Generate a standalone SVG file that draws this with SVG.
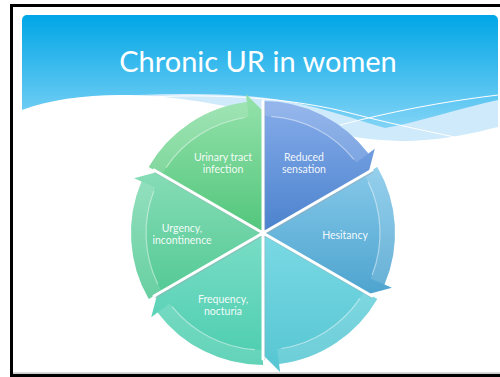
<svg xmlns="http://www.w3.org/2000/svg" width="500" height="377" viewBox="0 0 500 377">
<defs>
<linearGradient id="hdr" gradientUnits="userSpaceOnUse" x1="0" y1="15" x2="0" y2="140">
<stop offset="0" stop-color="#00a6e6"/><stop offset="1" stop-color="#8fd8f8"/>
</linearGradient>
<linearGradient id="gUti" x1="0" y1="0" x2="0" y2="1"><stop offset="0" stop-color="#95e2ab"/><stop offset="1" stop-color="#52c67c"/></linearGradient>
<linearGradient id="gRed" x1="0" y1="0" x2="0" y2="1"><stop offset="0" stop-color="#86acea"/><stop offset="1" stop-color="#4b82cd"/></linearGradient>
<linearGradient id="gHes" x1="0" y1="0" x2="0" y2="1"><stop offset="0" stop-color="#86c9ea"/><stop offset="1" stop-color="#4ea4cf"/></linearGradient>
<linearGradient id="gBr" x1="0" y1="0" x2="0" y2="1"><stop offset="0" stop-color="#7ad9e4"/><stop offset="1" stop-color="#56c6d2"/></linearGradient>
<linearGradient id="gFre" x1="0" y1="0" x2="0" y2="1"><stop offset="0" stop-color="#7addc6"/><stop offset="1" stop-color="#4ccdae"/></linearGradient>
<linearGradient id="gUrg" x1="0" y1="0" x2="0" y2="1"><stop offset="0" stop-color="#86dcb6"/><stop offset="1" stop-color="#52c994"/></linearGradient>
<path id="band" d="M263,101 A132,132 0 0 1 368.4,153.6 L356.4,162.6 A117,117 0 0 0 263,116 Z"/>
<path id="hl" d="M271.2,116.3 A117,117 0 0 1 353.9,159.4"/>
</defs>
<style>
.lbl{font-family:Lato,"Open Sans",sans-serif;font-size:10.5px;fill:#ffffff;fill-opacity:0.93;text-anchor:middle}
.band{fill:#ffffff;fill-opacity:0.13}
.hl{fill:none;stroke:#ffffff;stroke-opacity:0.45;stroke-width:1.2}
.spoke{stroke:#ffffff;stroke-width:3;stroke-linecap:round}
.spokesh{stroke:#9aa8b0;stroke-opacity:0.45;stroke-width:3}
</style>
<rect width="500" height="377" fill="#ffffff"/>
<g id="header">
<rect x="22" y="15" width="476" height="140" rx="5" fill="url(#hdr)"/>
<path d="M22,130 L22,112 C80,96 150,92 230,95 C300,98 340,115 385,128 C420,122 460,108 498,100 L498,160 L22,160 Z" fill="#cfeafb"/>
<path d="M22,110 C50,99 90,94 130,95 C190,97 240,108 290,122 C330,133 360,140 400,141 C440,141 470,134 498,127 L498,165 L22,165 Z" fill="#ffffff"/>
<path d="M150,97 C230,93 300,100 350,113 C400,126 440,134 470,140" fill="none" stroke="#ffffff" stroke-width="1"/>
<path d="M340,125 C390,112 440,102 498,95" fill="none" stroke="#ffffff" stroke-width="1"/>
<text x="258" y="72" font-family="Lato,'Open Sans',sans-serif" font-size="29" fill="#ffffff" text-anchor="middle">Chronic UR in women</text>
</g>
<g id="node-uti">
<path d="M263,233 L148.7,167 A132,132 0 0 1 246.9,102 L245.9,94 L263,111 Z" fill="url(#gUti)"/>
<use href="#band" class="band" transform="rotate(-60 263 233)"/>
<use href="#hl" class="hl" transform="rotate(-60 263 233)"/>
<text class="lbl" x="223" y="161">Urinary tract</text>
<text class="lbl" x="223" y="173">infection</text>
</g>
<g id="node-reduced">
<path d="M263,233 L263,101 A132,132 0 0 1 368.4,153.6 L374.8,148.7 L368.7,172 Z" fill="url(#gRed)"/>
<use href="#band" class="band"/>
<use href="#hl" class="hl"/>
<text class="lbl" x="304" y="161">Reduced</text>
<text class="lbl" x="304" y="173">sensation</text>
</g>
<g id="node-hesitancy">
<path d="M263,233 L377.3,167 A132,132 0 0 1 384.5,284.6 L391.9,287.7 L368.7,294 Z" fill="url(#gHes)"/>
<use href="#band" class="band" transform="rotate(60 263 233)"/>
<use href="#hl" class="hl" transform="rotate(60 263 233)"/>
<text class="lbl" x="345" y="239">Hesitancy</text>
</g>
<g id="node-bottom">
<path d="M263,233 L377.3,299 A132,132 0 0 1 279.1,364 L280.1,372 L263,355 Z" fill="url(#gBr)"/>
<use href="#band" class="band" transform="rotate(120 263 233)"/>
<use href="#hl" class="hl" transform="rotate(120 263 233)"/>
</g>
<g id="node-frequency">
<path d="M263,233 L263,365 A132,132 0 0 1 157.6,312.4 L151.2,317.3 L157.3,294 Z" fill="url(#gFre)"/>
<use href="#band" class="band" transform="rotate(180 263 233)"/>
<use href="#hl" class="hl" transform="rotate(180 263 233)"/>
<text class="lbl" x="223" y="303">Frequency,</text>
<text class="lbl" x="223" y="315">nocturia</text>
</g>
<g id="node-urgency">
<path d="M263,233 L148.7,299 A132,132 0 0 1 141.5,181.4 L134.1,178.3 L157.3,172 Z" fill="url(#gUrg)"/>
<use href="#band" class="band" transform="rotate(240 263 233)"/>
<use href="#hl" class="hl" transform="rotate(240 263 233)"/>
<text class="lbl" x="182" y="232">Urgency,</text>
<text class="lbl" x="182" y="244">incontinence</text>
</g>
<g id="connectors">
<g transform="translate(0.8 1.2)">
<line class="spokesh" x1="263" y1="233" x2="263" y2="101"/>
<line class="spokesh" x1="263" y1="233" x2="372" y2="170"/>
<line class="spokesh" x1="263" y1="233" x2="372" y2="296"/>
<line class="spokesh" x1="263" y1="233" x2="263" y2="359"/>
<line class="spokesh" x1="263" y1="233" x2="154" y2="296"/>
<line class="spokesh" x1="263" y1="233" x2="154" y2="170"/>
</g>
<line class="spoke" x1="263" y1="233" x2="263" y2="101"/>
<line class="spoke" x1="263" y1="233" x2="372" y2="170"/>
<line class="spoke" x1="263" y1="233" x2="372" y2="296"/>
<line class="spoke" x1="263" y1="233" x2="263" y2="359"/>
<line class="spoke" x1="263" y1="233" x2="154" y2="296"/>
<line class="spoke" x1="263" y1="233" x2="154" y2="170"/>
<circle cx="263" cy="233" r="3" fill="#ffffff"/>
</g>
<g id="frame">
<rect x="10" y="4" width="3" height="373" fill="#000000"/>
<rect x="10" y="4" width="490" height="3" fill="#000000"/>
<rect x="13" y="372.5" width="487" height="1.2" fill="#b8b8b8"/>
<rect x="10" y="374" width="490" height="3" fill="#000000"/>
</g>
</svg>
